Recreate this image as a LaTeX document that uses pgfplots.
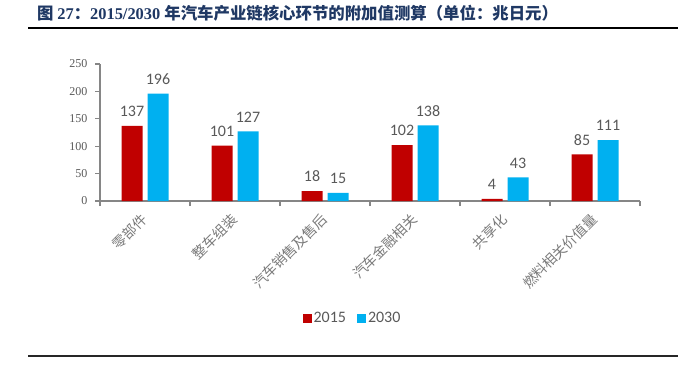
\documentclass[border=0pt]{standalone}
\usepackage{pgfplots}
\pgfplotsset{compat=1.18}
\usepackage{fontspec}
\setmainfont{Carlito}
\newfontfamily\cjk{Noto Sans CJK SC}
\newfontfamily\tnr{Liberation Serif}
\definecolor{barred}{HTML}{C00000}
\definecolor{barblue}{HTML}{00B0F0}
\definecolor{axisgray}{HTML}{868686}
\definecolor{lblgray}{HTML}{595959}
\definecolor{catgray}{HTML}{7A7A7A}
\definecolor{navy}{HTML}{1F3864}
\begin{document}
\begin{tikzpicture}
\path (0pt,0pt) rectangle (680pt,376pt);
\node[anchor=west, inner sep=0pt, text=navy] at (37pt,362.5pt)
  {\fontsize{16.4}{16.4}\selectfont{\cjk\bfseries 图 }{\tnr\bfseries 27}{\cjk\bfseries ：}{\tnr\bfseries 2015/2030 }{\cjk\bfseries 年汽车产业链核心环节的附加值测算（单位：兆日元）}};
\draw[line width=1.5pt] (28pt,348pt) -- (678pt,348pt);
\draw[line width=1.5pt, draw=black!85] (28pt,20pt) -- (678pt,20pt);
\begin{axis}[
  at={(100pt,175pt)}, anchor=south west,
  scale only axis, width=540pt, height=137pt,
  ybar=5pt, bar width=21pt,
  xmin=-0.5, xmax=5.5, ymin=0, ymax=250,
  axis x line*=bottom, axis y line*=left,
  axis line style={draw=axisgray, line width=1.2pt},
  every tick/.style={draw=axisgray, line width=1.2pt},
  tick align=outside, major tick length=5pt,
  xtick={-0.5,0.5,1.5,2.5,3.5,4.5,5.5},
  x tick label as interval,
  xticklabels={零部件,整车组装,汽车销售及售后,汽车金融相关,共享化,燃料相关价值量},
  xticklabel style={xshift=-5pt, yshift=-3pt, rotate=45, anchor=north east, font=\cjk\fontsize{14}{14}\selectfont, text=catgray, inner sep=2pt},
  ytick={0,50,100,150,200,250},
  /pgf/number format/assume math mode=true,
  yticklabel style={xshift=-4pt, font=\tnr\fontsize{12}{12}\selectfont, text=lblgray},
  nodes near coords,
  every node near coord/.append style={font=\fontsize{16}{16}\selectfont, text=lblgray, anchor=south, inner sep=0pt, yshift=9pt},
  legend style={at={(rel axis cs:0.4676,-0.854)}, anchor=center, draw=none, fill=none,
    legend columns=-1, font=\fontsize{16}{16}\selectfont, text=lblgray,
    /tikz/every even column/.append style={column sep=9pt}},
  clip=false,
]
\addplot[fill=barred, draw=none, legend image code/.code={\fill[barred] (0pt,-4.5pt) rectangle (9pt,4.5pt);}] coordinates {(0,137) (1,101) (2,18) (3,102) (4,4) (5,85)};
\addplot[fill=barblue, draw=none, legend image code/.code={\fill[barblue] (0pt,-4.5pt) rectangle (9pt,4.5pt);}] coordinates {(0,196) (1,127) (2,15) (3,138) (4,43) (5,111)};
\legend{2015,2030}
\end{axis}
\end{tikzpicture}
\end{document}
